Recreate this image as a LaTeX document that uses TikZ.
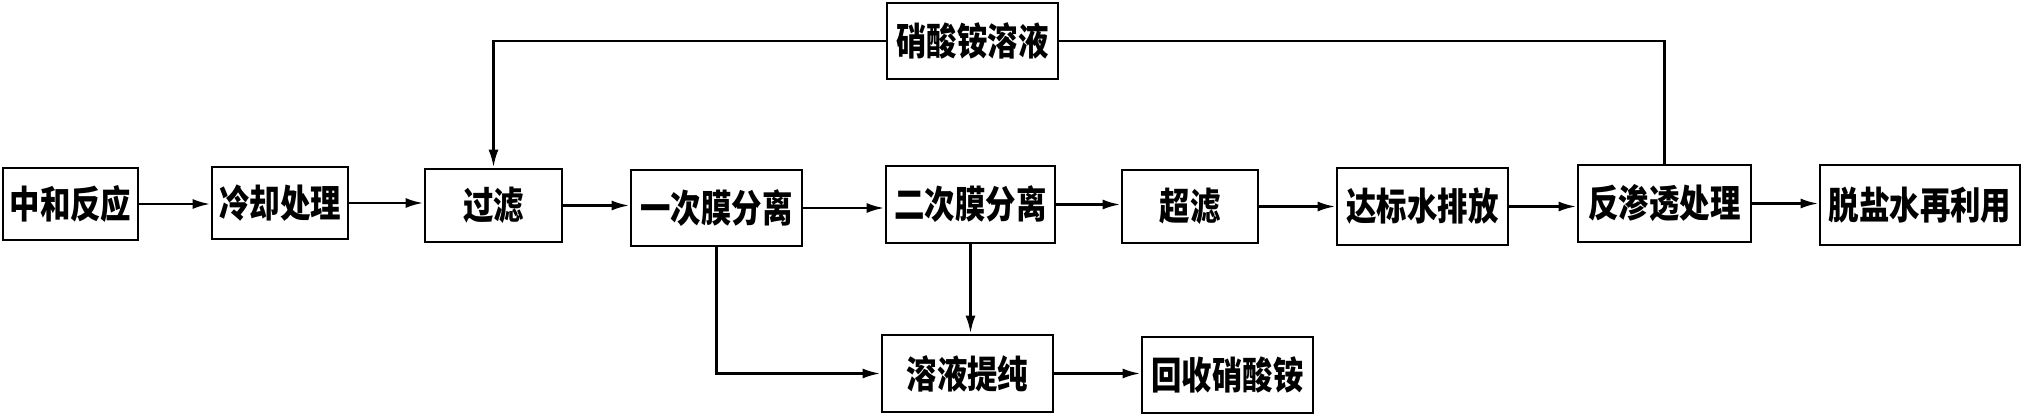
\documentclass[tikz,border=0pt]{standalone}
\usepackage{fontspec}
\newfontfamily\cjk[FakeStretch=0.8]{Noto Sans CJK SC}
\usetikzlibrary{arrows.meta}
\begin{document}
\begin{tikzpicture}[x=1pt,y=-1pt,
  box/.style={draw,line width=2.8pt,inner sep=0pt,font=\cjk\bfseries\fontsize{38}{38}\selectfont},
  arr/.style={line width=2.8pt,-{Latex[length=18pt,width=10pt]}},
  ln/.style={line width=2.8pt}]
\useasboundingbox (0,0) rectangle (2024,417);
\fill[white] (0,0) rectangle (2024,417);
\newcommand\bx[6]{\node[box,minimum width={#4-#2},minimum height={#5-#3}] (#1) at ({(#2+#4)/2},{(#3+#5)/2}) {#6};}
\bx{zh}{3}{168}{138}{240}{中和反应}
\bx{lq}{212}{167}{348}{239}{冷却处理}
\bx{gl}{425}{169}{562}{242}{过滤}
\bx{yc}{631}{170}{802}{246}{一次膜分离}
\bx{ec}{886}{166}{1055}{243}{二次膜分离}
\bx{cl}{1122}{170}{1258}{243}{超滤}
\bx{db}{1337}{168}{1508}{245}{达标水排放}
\bx{fs}{1578}{165}{1751}{242}{反渗透处理}
\bx{ts}{1820}{165}{2020}{245}{脱盐水再利用}
\bx{xs}{887}{3}{1058}{79}{硝酸铵溶液}
\bx{ry}{882}{335}{1053}{412}{溶液提纯}
\bx{hs}{1142}{337}{1313}{413}{回收硝酸铵}
\draw[arr] (zh.east) -- (zh.east -| lq.west);
\draw[arr] (lq.east) -- (lq.east -| gl.west);
\draw[arr] (gl.east) -- (gl.east -| yc.west);
\draw[arr] (yc.east) -- (yc.east -| ec.west);
\draw[arr] (ec.east) -- (ec.east -| cl.west);
\draw[arr] (cl.east) -- (cl.east -| db.west);
\draw[arr] (db.east) -- (db.east -| fs.west);
\draw[arr] (fs.east) -- (fs.east -| ts.west);
\draw[ln] (fs.north) |- (xs.east);
\draw[arr] (xs.west) -| (gl.north);
\draw[arr] (yc.south) |- (ry.west);
\draw[arr] (ec.south) -- (ec.south |- ry.north);
\draw[arr] (ry.east) -- (ry.east -| hs.west);
\end{tikzpicture}
\end{document}
